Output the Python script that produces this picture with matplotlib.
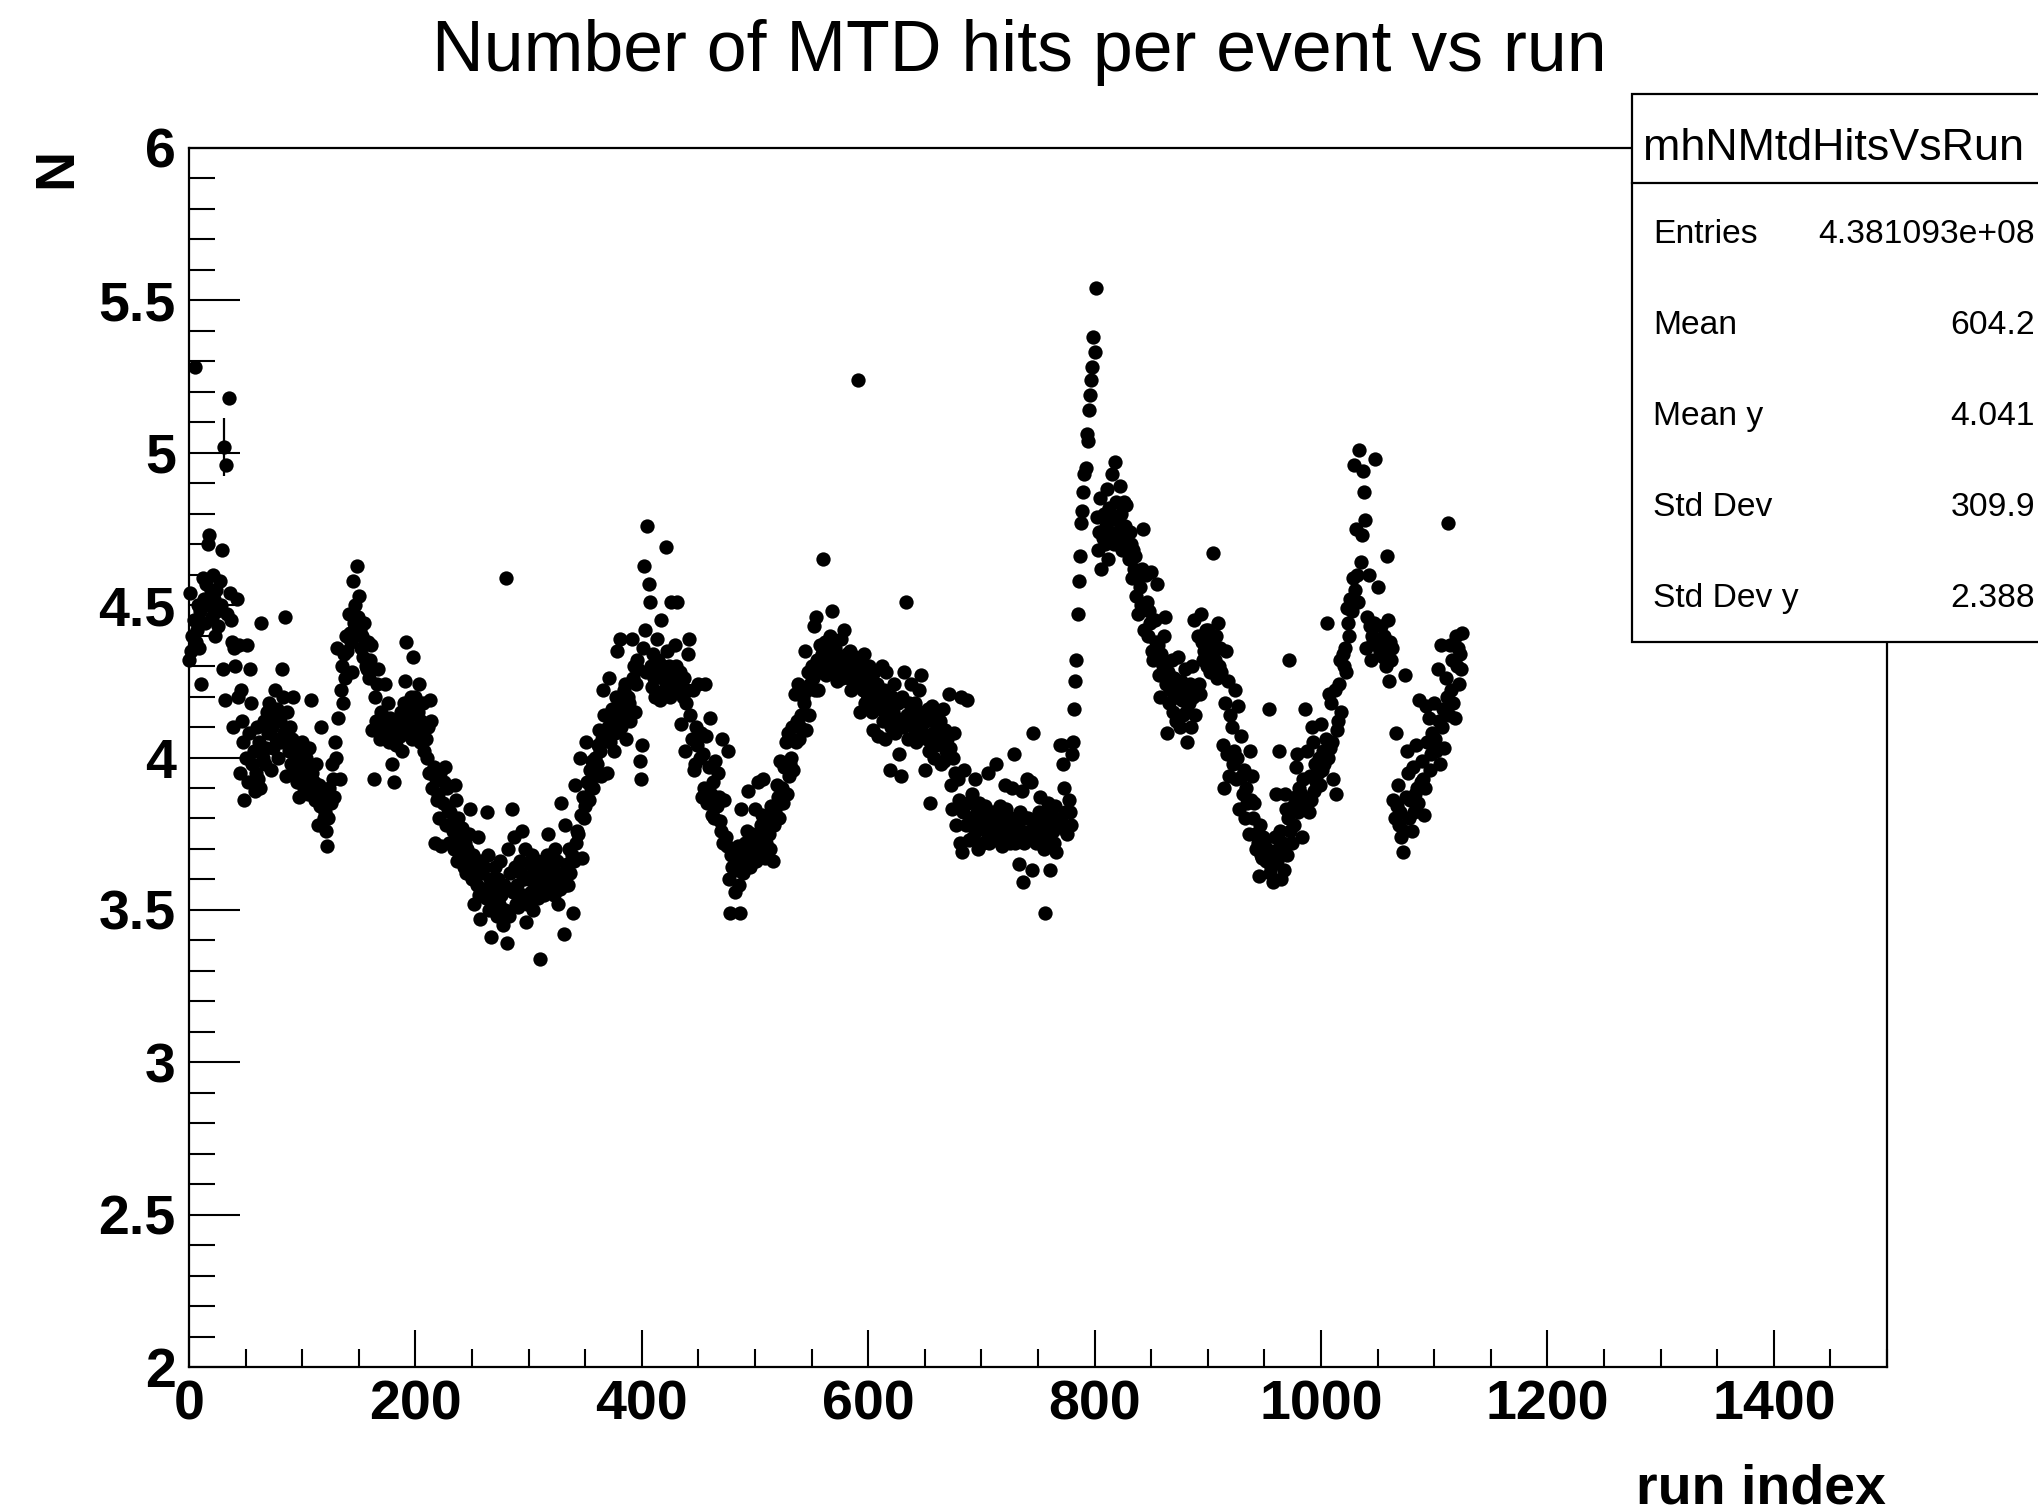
import matplotlib
matplotlib.use('Agg')
import matplotlib.pyplot as plt
from matplotlib.patches import Rectangle
from matplotlib.lines import Line2D
from matplotlib.ticker import FixedLocator, MultipleLocator, FuncFormatter

title = "Number of MTD hits per event vs run"
x_label = "run index"
y_label = "N"
stats_name = "mhNMtdHitsVsRun"
stats_labels = ["Entries", "Mean", "Mean y", "Std Dev", "Std Dev y"]
stats_values = ["4.381093e+08", "604.2", "4.041", "309.9", "2.388"]
x_ticks = [0, 200, 400, 600, 800, 1000, 1200, 1400]
y_ticks = [2, 2.5, 3, 3.5, 4, 4.5, 5, 5.5, 6]

# mean number of MTD hits per event, one value per run index
hits_per_event = [
    4.32, 4.54, 4.35, 4.40, 4.45, 5.28, 4.38, 4.42, 4.50, 4.36,
    4.48, 4.24, 4.59, 4.52, 4.44, 4.57, 4.50, 4.70, 4.73, 4.55,
    4.46, 4.60, 4.52, 4.40, 4.55, 4.48, 4.43, 4.58, 4.50, 4.68,
    4.29, 5.02, 4.19, 4.96, 4.47, 5.18, 4.54, 4.45, 4.38, 4.10,
    4.36, 4.30, 4.52, 4.20, 4.37, 3.95, 4.22, 4.12, 4.05, 3.86,
    4.00, 4.37, 3.92, 4.08, 4.29, 4.18, 3.98, 4.02, 3.89, 3.95,
    4.10, 3.93, 4.05, 3.90, 4.44, 4.00, 4.12, 3.98, 4.03, 4.15,
    4.08, 4.18, 3.96, 4.10, 4.03, 4.14, 4.22, 4.06, 4.16, 4.00,
    4.12, 4.05, 4.29, 4.20, 4.08, 4.46, 3.94, 4.15, 4.02, 4.10,
    3.98, 4.06, 4.20, 3.95, 4.04, 3.92, 4.00, 3.87, 3.96, 4.02,
    4.05, 3.94, 3.90, 4.00, 3.97, 3.88, 4.03, 3.93, 4.19, 3.95,
    3.92, 3.86, 3.98, 3.89, 3.78, 3.91, 3.84, 4.10, 3.88, 3.80,
    3.82, 3.76, 3.71, 3.80, 3.90, 3.85, 3.98, 3.93, 3.87, 4.05,
    4.00, 4.36, 4.13, 3.93, 4.22, 4.30, 4.18, 4.34, 4.26, 4.40,
    4.35, 4.47, 4.41, 4.38, 4.28, 4.58, 4.44, 4.50, 4.63, 4.46,
    4.53, 4.42, 4.36, 4.40, 4.33, 4.44, 4.30, 4.29, 4.38, 4.26,
    4.32, 4.37, 4.09, 3.93, 4.20, 4.12, 4.24, 4.29, 4.10, 4.06,
    4.15, 4.08, 4.12, 4.24, 4.06, 4.10, 4.18, 4.05, 4.13, 3.98,
    4.08, 3.92, 4.12, 4.04, 4.10, 4.12, 4.07, 4.15, 4.02, 4.10,
    4.18, 4.25, 4.38, 4.12, 4.08, 4.14, 4.20, 4.06, 4.33, 4.16,
    4.20, 4.10, 4.15, 4.24, 4.05, 4.12, 4.08, 4.18, 4.02, 4.06,
    4.00, 4.10, 3.95, 4.19, 4.12, 3.90, 3.97, 3.72, 3.93, 3.86,
    3.88, 3.80, 3.95, 3.71, 3.85, 3.92, 3.97, 3.78, 3.90, 3.83,
    3.72, 3.82, 3.78, 3.76, 3.70, 3.91, 3.86, 3.66, 3.80, 3.74,
    3.68, 3.77, 3.72, 3.64, 3.72, 3.62, 3.70, 3.75, 3.83, 3.66,
    3.60, 3.68, 3.52, 3.63, 3.58, 3.74, 3.55, 3.47, 3.66, 3.62,
    3.57, 3.64, 3.54, 3.82, 3.68, 3.50, 3.60, 3.41, 3.58, 3.53,
    3.64, 3.56, 3.48, 3.60, 3.52, 3.66, 3.55, 3.45, 3.58, 3.50,
    4.59, 3.39, 3.70, 3.48, 3.62, 3.83, 3.56, 3.74, 3.64, 3.52,
    3.58, 3.51, 3.66, 3.62, 3.76, 3.55, 3.60, 3.70, 3.46, 3.52,
    3.60, 3.65, 3.56, 3.68, 3.50, 3.62, 3.58, 3.66, 3.54, 3.61,
    3.34, 3.58, 3.63, 3.66, 3.55, 3.60, 3.68, 3.75, 3.57, 3.62,
    3.58, 3.64, 3.55, 3.70, 3.60, 3.66, 3.52, 3.60, 3.57, 3.85,
    3.62, 3.42, 3.78, 3.58, 3.65, 3.58, 3.70, 3.62, 3.68, 3.49,
    3.66, 3.91, 3.72, 3.76, 3.75, 4.00, 3.81, 3.67, 3.87, 3.80,
    3.84, 4.05, 3.92, 3.86, 3.96, 3.90, 3.99, 3.90, 3.94, 4.00,
    3.98, 4.04, 4.09, 4.02, 3.94, 4.06, 4.22, 4.14, 4.08, 3.95,
    4.10, 4.26, 4.05, 4.12, 4.16, 4.02, 4.08, 4.20, 4.35, 4.12,
    4.15, 4.39, 4.10, 4.18, 4.22, 4.24, 4.06, 4.14, 4.20, 4.18,
    4.12, 4.39, 4.26, 4.30, 4.15, 4.24, 4.32, 4.29, 3.99, 3.93,
    4.04, 4.36, 4.63, 4.42, 4.28, 4.76, 4.57, 4.51, 4.30, 4.23,
    4.34, 4.26, 4.20, 4.39, 4.32, 4.28, 4.19, 4.45, 4.26, 4.30,
    4.22, 4.69, 4.35, 4.24, 4.30, 4.20, 4.51, 4.28, 4.22, 4.37,
    4.30, 4.51, 4.25, 4.22, 4.28, 4.11, 4.20, 4.26, 4.02, 4.18,
    4.22, 4.34, 4.39, 4.14, 4.06, 4.22, 3.96, 3.98, 4.10, 4.04,
    4.24, 4.00, 4.08, 3.87, 4.01, 3.90, 4.24, 4.07, 3.85, 3.97,
    4.13, 3.88, 3.81, 3.92, 3.80, 3.99, 3.84, 3.95, 3.87, 3.79,
    3.76, 4.06, 3.72, 3.86, 3.74, 3.71, 4.02, 3.60, 3.49, 3.68,
    3.64, 3.70, 3.56, 3.66, 3.63, 3.71, 3.58, 3.49, 3.83, 3.62,
    3.68, 3.72, 3.66, 3.76, 3.89, 3.70, 3.64, 3.75, 3.68, 3.72,
    3.83, 3.66, 3.74, 3.92, 3.70, 3.78, 3.81, 3.93, 3.76, 3.67,
    3.72, 3.80, 3.75, 3.70, 3.84, 3.79, 3.66, 3.78, 3.82, 3.91,
    3.87, 3.80, 3.99, 3.85, 3.90, 3.85, 3.97, 4.05, 3.88, 4.08,
    3.94, 3.98, 4.00, 4.10, 3.96, 4.21, 4.05, 4.12, 4.24, 4.06,
    4.10, 4.14, 4.20, 4.18, 4.35, 4.09, 4.22, 4.28, 4.14, 4.24,
    4.30, 4.26, 4.43, 4.22, 4.46, 4.32, 4.22, 4.37, 4.28, 4.34,
    4.65, 4.30, 4.38, 4.27, 4.36, 4.33, 4.40, 4.29, 4.48, 4.35,
    4.30, 4.36, 4.25, 4.33, 4.28, 4.32, 4.39, 4.26, 4.30, 4.42,
    4.28, 4.34, 4.30, 4.26, 4.35, 4.22, 4.31, 4.25, 4.33, 4.28,
    4.24, 5.24, 4.26, 4.15, 4.30, 4.22, 4.34, 4.18, 4.27, 4.21,
    4.25, 4.30, 4.20, 4.15, 4.09, 4.28, 4.22, 4.18, 4.24, 4.07,
    4.20, 4.16, 4.30, 4.12, 4.22, 4.06, 4.28, 4.14, 4.18, 3.96,
    4.10, 4.20, 4.15, 4.24, 4.08, 4.13, 4.18, 4.01, 4.12, 3.94,
    4.20, 4.10, 4.28, 4.51, 4.14, 4.06, 4.18, 4.12, 4.24, 4.16,
    4.10, 4.18, 4.05, 4.14, 4.09, 4.22, 4.12, 4.27, 4.08, 4.15,
    3.96, 4.12, 4.06, 4.16, 4.02, 3.85, 4.17, 4.08, 4.00, 4.13,
    4.04, 4.10, 4.05, 4.12, 3.98, 4.07, 4.16, 3.99, 4.09, 4.02,
    4.06, 4.21, 4.03, 3.91, 3.83, 4.00, 4.08, 3.95, 3.78, 3.93,
    3.86, 3.72, 4.20, 3.69, 3.82, 3.96, 3.78, 4.19, 3.85, 3.73,
    3.80, 3.78, 3.88, 3.74, 3.93, 3.76, 3.82, 3.70, 3.85, 3.79,
    3.77, 3.72, 3.81, 3.84, 3.76, 3.80, 3.95, 3.72, 3.78, 3.74,
    3.82, 3.76, 3.80, 3.98, 3.73, 3.76, 3.84, 3.78, 3.71, 3.80,
    3.75, 3.91, 3.83, 3.78, 3.77, 3.72, 3.80, 3.90, 3.74, 4.01,
    3.72, 3.79, 3.78, 3.65, 3.82, 3.76, 3.89, 3.59, 3.72, 3.80,
    3.93, 3.80, 3.74, 3.76, 3.92, 3.63, 4.08, 3.77, 3.72, 3.79,
    3.75, 3.82, 3.87, 3.73, 3.78, 3.70, 3.49, 3.81, 3.76, 3.85,
    3.74, 3.63, 3.80, 3.76, 3.72, 3.84, 3.69, 3.78, 3.78, 4.04,
    3.80, 4.04, 3.98, 3.90, 3.82, 3.76, 3.75, 3.86, 3.82, 3.78,
    4.01, 4.05, 4.16, 4.25, 4.32, 4.47, 4.58, 4.66, 4.77, 4.81,
    4.87, 4.93, 4.95, 5.06, 5.04, 5.14, 5.19, 5.24, 5.28, 5.38,
    5.33, 5.54, 4.79, 4.68, 4.74, 4.85, 4.62, 4.72, 4.80, 4.70,
    4.76, 4.88, 4.65, 4.82, 4.74, 4.93, 4.79, 4.70, 4.97, 4.84,
    4.78, 4.74, 4.89, 4.80, 4.68, 4.72, 4.84, 4.76, 4.83, 4.70,
    4.65, 4.74, 4.70, 4.59, 4.68, 4.62, 4.66, 4.53, 4.47, 4.60,
    4.56, 4.50, 4.62, 4.75, 4.42, 4.60, 4.51, 4.40, 4.48, 4.44,
    4.61, 4.35, 4.32, 4.45, 4.38, 4.57, 4.37, 4.27, 4.20, 4.34,
    4.30, 4.40, 4.46, 4.24, 4.08, 4.28, 4.18, 4.22, 4.32, 4.15,
    4.26, 4.23, 4.12, 4.20, 4.33, 4.10, 4.25, 4.19, 4.14, 4.22,
    4.29, 4.15, 4.05, 4.18, 4.24, 4.10, 4.30, 4.20, 4.45, 4.14,
    4.22, 4.40, 4.24, 4.21, 4.47, 4.38, 4.32, 4.35, 4.42, 4.30,
    4.42, 4.34, 4.28, 4.38, 4.36, 4.67, 4.32, 4.40, 4.26, 4.44,
    4.30, 4.36, 4.28, 4.04, 3.90, 4.18, 4.35, 4.01, 4.25, 3.94,
    4.14, 4.10, 3.98, 4.02, 4.22, 3.93, 4.00, 4.17, 3.83, 4.07,
    3.94, 3.88, 3.96, 3.80, 3.90, 3.85, 3.75, 4.02, 3.86, 3.94,
    3.80, 3.85, 3.75, 3.70, 3.72, 3.61, 3.78, 3.68, 3.67, 3.74,
    3.72, 3.66, 3.70, 3.67, 4.16, 3.62, 3.64, 3.69, 3.59, 3.74,
    3.88, 3.66, 3.70, 4.02, 3.76, 3.60, 3.72, 3.63, 3.88, 3.83,
    3.68, 3.80, 4.32, 3.76, 3.72, 3.84, 3.78, 3.87, 3.97, 4.01,
    3.82, 3.90, 3.88, 3.74, 3.93, 3.86, 4.16, 3.85, 4.02, 3.82,
    3.94, 3.86, 4.10, 4.05, 3.89, 3.98, 3.92, 3.95, 4.00, 3.91,
    4.11, 3.96, 4.02, 3.98, 4.06, 4.44, 4.00, 4.21, 4.03, 4.18,
    4.05, 3.93, 4.22, 3.88, 4.09, 4.12, 4.24, 4.32, 4.15, 4.34,
    4.30, 4.36, 4.28, 4.49, 4.44, 4.40, 4.52, 4.48, 4.59, 4.96,
    4.55, 4.75, 4.60, 4.51, 5.01, 4.64, 4.73, 4.94, 4.87, 4.78,
    4.36, 4.46, 4.60, 4.43, 4.32, 4.40, 4.38, 4.44, 4.98, 4.39,
    4.56, 4.36, 4.34, 4.43, 4.37, 4.33, 4.40, 4.30, 4.66, 4.45,
    4.25, 4.38, 4.32, 4.36, 3.86, 3.80, 4.08, 3.84, 3.91, 3.78,
    3.82, 3.74, 3.69, 3.76, 4.27, 3.87, 4.02, 3.95, 3.80, 3.86,
    3.76, 3.97, 3.82, 3.88, 4.04, 3.90, 3.85, 4.19, 3.92, 3.99,
    3.93, 3.81, 3.90, 4.17, 4.05, 4.13, 3.96, 4.01, 4.08, 4.02,
    4.18, 4.06, 4.02, 4.29, 4.12, 3.98, 4.37, 4.10, 4.16, 4.03,
    4.26, 4.20, 4.77, 4.14, 4.37, 4.22, 4.32, 4.18, 4.13, 4.40,
    4.30, 4.36, 4.24, 4.34, 4.29, 4.41,
]
run_index = list(range(len(hits_per_event)))

# the one error bar that is visible outside its marker
err_runs = [31]
err_sizes = [0.095]

W, H = 2038, 1512
plt.rcParams['font.family'] = ['Liberation Sans', 'DejaVu Sans']
fig = plt.figure(figsize=(W / 100, H / 100), dpi=100)

L, R, T, B = 189, 1887, 148, 1367
ax = fig.add_axes([L / W, 1 - B / H, (R - L) / W, (B - T) / H])

ax.plot(run_index, hits_per_event, 'o', ms=10.3, color='black', mew=0,
        clip_on=False, zorder=3)
ax.errorbar(err_runs, [hits_per_event[r] for r in err_runs], yerr=err_sizes,
            fmt='none', ecolor='black', elinewidth=1.6, capsize=0, zorder=3)

ax.set_xlim(0, 1500)
ax.set_ylim(2, 6)

ax.xaxis.set_major_locator(FixedLocator(x_ticks))
ax.yaxis.set_major_locator(FixedLocator(y_ticks))
ax.xaxis.set_minor_locator(MultipleLocator(50))
ax.yaxis.set_minor_locator(MultipleLocator(0.1))
ax.xaxis.set_major_formatter(FuncFormatter(lambda v, p: '%g' % v))
ax.yaxis.set_major_formatter(FuncFormatter(lambda v, p: '%g' % v))

for s in ax.spines.values():
    s.set_linewidth(1.6)

ax.tick_params(axis='both', which='both', direction='in', width=1.5,
               top=False, right=False, colors='black')
ax.tick_params(axis='y', which='major', length=36.7, pad=9.5, labelsize=40)
ax.tick_params(axis='y', which='minor', length=18.4)
ax.tick_params(axis='x', which='major', length=26.6, pad=9, labelsize=40)
ax.tick_params(axis='x', which='minor', length=13.3)
for lab in ax.get_xticklabels() + ax.get_yticklabels():
    lab.set_fontweight('bold')

# titles
fig.text(0.5, 1 - 71.5 / H, title, ha='center', va='baseline', fontsize=51.6)
fig.text(1886 / W, 1 - 1503 / H, x_label, ha='right', va='baseline',
         fontsize=40, fontweight='bold')
fig.text(57 / W, 1 - 148 / H, y_label, rotation=90, ha='center', va='top',
         fontsize=40, fontweight='bold')

# statistics box
bx0, by0, by1 = 1632, 94, 642
box = Rectangle((bx0 / W, 1 - by1 / H), (W - bx0 + 20) / W, (by1 - by0) / H,
                transform=fig.transFigure, facecolor='white', edgecolor='black',
                linewidth=1.6, clip_on=False, zorder=5)
fig.add_artist(box)
fig.add_artist(Line2D([bx0 / W, 1.01], [1 - 183 / H, 1 - 183 / H],
                      transform=fig.transFigure, color='black', linewidth=1.6,
                      zorder=6))
fig.text(1643 / W, 1 - 160 / H, stats_name, ha='left', va='baseline',
         fontsize=32.3, zorder=7)
baselines = [243, 334, 425, 516, 607]
for lab, val, yb in zip(stats_labels, stats_values, baselines):
    fig.text(1653 / W, 1 - yb / H, lab, ha='left', va='baseline',
             fontsize=24.2, zorder=7)
    fig.text(2035 / W, 1 - yb / H, val, ha='right', va='baseline',
             fontsize=24.2, zorder=7)

fig.savefig('out.png', dpi=100, facecolor='white')
